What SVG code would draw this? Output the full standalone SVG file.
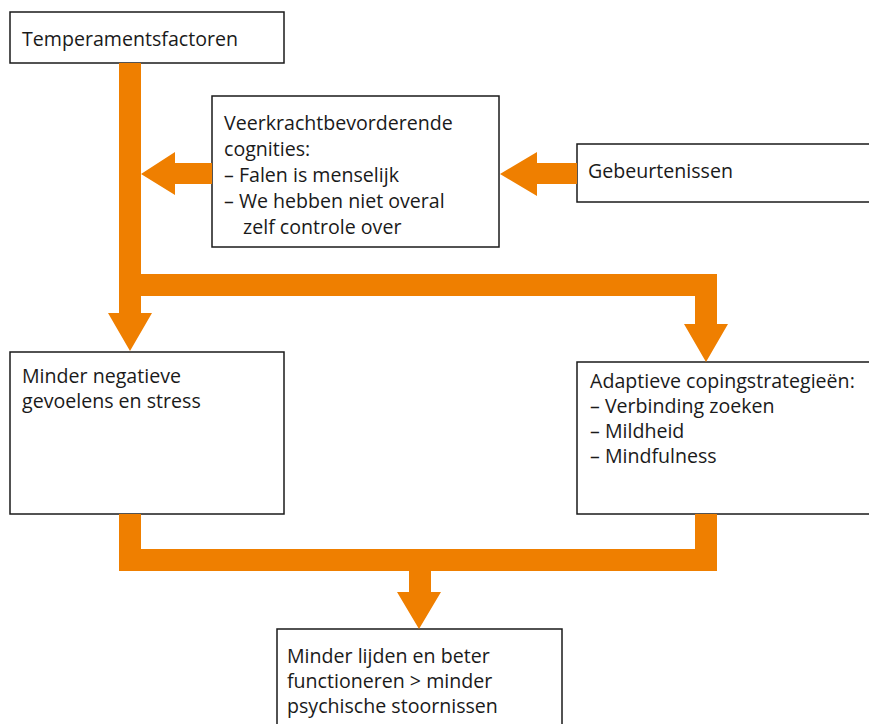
<svg xmlns="http://www.w3.org/2000/svg" width="869" height="724" viewBox="0 0 869 724">
<style>
.box{fill:#fff;stroke:#1a1a1a;stroke-width:1.5}
.t{font-family:"Open Sans","Noto Sans",sans-serif;font-size:19.6px;fill:#1a1a1a}
.c{fill:#EF7F00;stroke:none}
</style>
<rect width="869" height="724" fill="#fff"/>
<g id="temperamentsfactoren">
<rect class="box" x="10" y="12" width="274" height="51"/>
<text class="t" x="22" y="46">Temperamentsfactoren</text>
</g>
<g id="veerkracht">
<rect class="box" x="212" y="96" width="287" height="151"/>
<text class="t"><tspan x="224" y="130">Veerkrachtbevorderende</tspan><tspan x="224" y="156">cognities:</tspan><tspan x="224" y="182">– Falen is menselijk</tspan><tspan x="224" y="208">– We hebben niet overal</tspan><tspan x="243" y="234">zelf controle over</tspan></text>
</g>
<g id="gebeurtenissen">
<rect class="box" x="577" y="144" width="300" height="58"/>
<text class="t" x="588" y="178">Gebeurtenissen</text>
</g>
<g id="minder-negatieve">
<rect class="box" x="10" y="352" width="274" height="162"/>
<text class="t"><tspan x="22" y="383">Minder negatieve</tspan><tspan x="22" y="408">gevoelens en stress</tspan></text>
</g>
<g id="adaptieve">
<rect class="box" x="577" y="362" width="300" height="152"/>
<text class="t"><tspan x="590" y="388">Adaptieve copingstrategieën:</tspan><tspan x="590" y="413">– Verbinding zoeken</tspan><tspan x="590" y="438">– Mildheid</tspan><tspan x="590" y="463">– Mindfulness</tspan></text>
</g>
<g id="minder-lijden">
<rect class="box" x="277" y="629" width="285" height="120"/>
<text class="t"><tspan x="287" y="663">Minder lijden en beter</tspan><tspan x="287" y="688">functioneren &gt; minder</tspan><tspan x="287" y="713">psychische stoornissen</tspan></text>
</g>
<g id="connectors">
<path class="c" d="M119,63 H141 V274 H717 V324 H728 L706,362 L684,324 H695 V296 H141 V313 H152 L130,351 L108,313 H119 Z"/>
<path class="c" d="M212,163 V184 H175 V195 L141,174 L175,152 V163 Z"/>
<path class="c" d="M577,163 V184 H537 V196 L500,174 L537,152 V163 Z"/>
<path class="c" d="M119,514 H141 V549 H695 V514 H717 V571 H431 V592 H441 L419,629 L397,592 H409 V571 H119 Z"/>
</g>
</svg>
